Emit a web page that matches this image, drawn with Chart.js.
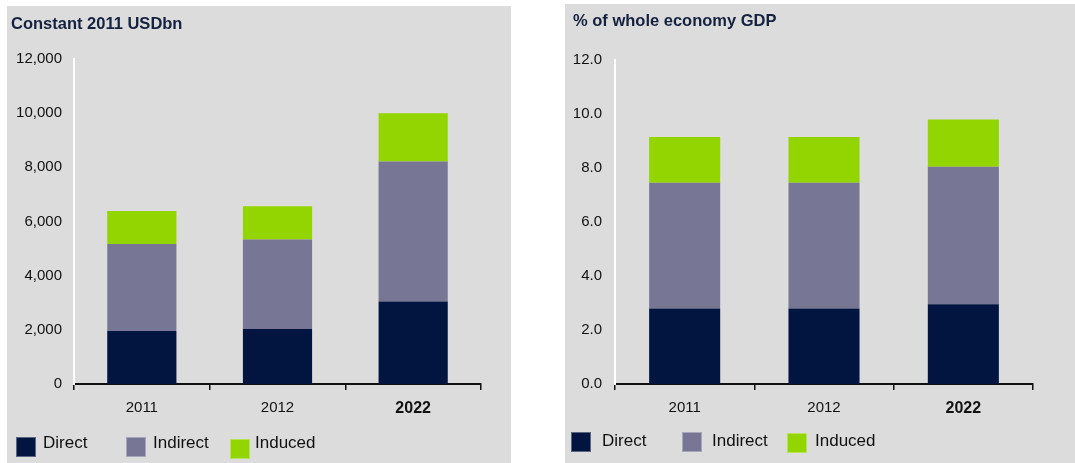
<!DOCTYPE html>
<html>
<head>
<meta charset="utf-8">
<script src="https://cdn.jsdelivr.net/npm/chart.js@4.4.1/dist/chart.umd.min.js"></script>
<style>
  body { margin: 0; background: #fff; font-family: "Liberation Sans", Arial, sans-serif; }
  .panel { position: absolute; background: #dcdcdc; }
  .panel canvas { position: absolute; left: 0; top: 0; }
  .title { position: absolute; font-weight: bold; font-size: 16.5px; color: #14213f; white-space: nowrap; }
  .key { position: absolute; width: 20px; height: 20px; box-sizing: border-box; border: 1px solid rgba(255,255,255,0.35); }
  .lbl { position: absolute; font-size: 17px; color: #111; white-space: nowrap; line-height: 20px; }
</style>
</head>
<body>
<div class="panel" id="p1" style="left:7px;top:6px;width:504px;height:457px;">
  <canvas id="usd" width="504" height="457"></canvas>
  <div class="title" style="left:4px;top:8px;">Constant 2011 USDbn</div>
</div>
<div class="panel" id="p2" style="left:565px;top:4px;width:510px;height:459px;">
  <canvas id="gdp" width="510" height="459"></canvas>
  <div class="title" style="left:8px;top:7px;">% of whole economy GDP</div>
</div>
<script>
const years = ['2011', '2012', '2022'];
const seriesNames = ['Direct', 'Indirect', 'Induced'];
const seriesColors = ['#011540', '#777795', '#93d500'];

// Constant 2011 USDbn
const usdDirect = [1960, 2030, 3050];
const usdIndirect = [3210, 3310, 5170];
const usdInduced = [1220, 1220, 1780];
const usdTicks = [0, 2000, 4000, 6000, 8000, 10000, 12000];

// % of whole economy GDP
const gdpDirect = [2.8, 2.8, 2.95];
const gdpIndirect = [4.65, 4.65, 5.1];
const gdpInduced = [1.7, 1.7, 1.75];
const gdpTicks = [0, 2, 4, 6, 8, 10, 12];

function makeChart(id, series, ticks, fmt, box) {
  new Chart(document.getElementById(id), {
    type: 'bar',
    data: {
      labels: years,
      datasets: series.map((d, i) => ({
        label: seriesNames[i],
        data: d,
        backgroundColor: seriesColors[i],
        borderWidth: 0,
        categoryPercentage: 1,
        barPercentage: 0.51
      }))
    },
    options: {
      responsive: false,
      animation: false,
      layout: { padding: { left: 0, top: box.top, right: box.right, bottom: box.bottom } },
      plugins: { legend: { display: false }, tooltip: { enabled: false } },
      scales: {
        x: {
          stacked: true,
          offset: true,
          grid: { offset: true, drawOnChartArea: false, drawTicks: true, tickLength: 6, color: '#111', lineWidth: 1.5 },
          border: { color: '#111', width: 2 },
          ticks: {
            color: '#111',
            padding: 9,
            font: c => c.index === 2 ? { family: 'Liberation Sans', size: 16, weight: 'bold' } : { family: 'Liberation Sans', size: 15 }
          },
          afterFit: s => { s.height = 40; }
        },
        y: {
          stacked: true,
          min: ticks[0],
          max: ticks[ticks.length - 1],
          afterBuildTicks: s => { s.ticks = ticks.map(v => ({ value: v })); },
          grid: { display: false, drawTicks: false },
          border: { color: '#ffffff', width: 2 },
          ticks: {
            color: '#111',
            padding: box.tickPad,
            font: { family: 'Liberation Sans', size: 15 },
            callback: fmt
          },
          afterFit: s => { s.width = box.axisLeft; }
        }
      }
    }
  });
}

makeChart('usd', [usdDirect, usdIndirect, usdInduced], usdTicks,
  v => v.toLocaleString('en-US'),
  { top: 53, right: 30, bottom: 39, axisLeft: 67, tickPad: 12 });
makeChart('gdp', [gdpDirect, gdpIndirect, gdpInduced], gdpTicks,
  v => v.toFixed(1),
  { top: 56, right: 42, bottom: 39, axisLeft: 50, tickPad: 13 });

// legends
function legend(panelId, boxes, texts, tops, textTop) {
  const p = document.getElementById(panelId);
  seriesNames.forEach((name, i) => {
    const k = document.createElement('div');
    k.className = 'key';
    k.style.left = boxes[i] + 'px';
    k.style.top = tops[i] + 'px';
    k.style.background = seriesColors[i];
    p.appendChild(k);
    const t = document.createElement('div');
    t.className = 'lbl';
    t.style.left = texts[i] + 'px';
    t.style.top = textTop + 'px';
    t.textContent = name;
    p.appendChild(t);
  });
}
legend('p1', [9, 119, 223], [36, 146, 248], [431, 431, 433], 427);
legend('p2', [6, 117, 222], [37, 147, 250], [428, 428, 429], 427);
</script>
</body>
</html>
